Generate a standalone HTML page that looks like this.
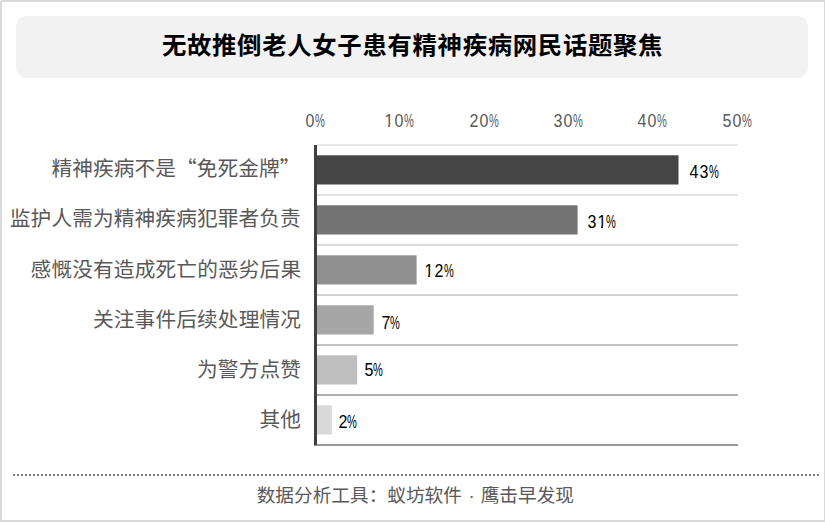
<!DOCTYPE html>
<html lang="zh-CN">
<head>
<meta charset="utf-8">
<title>无故推倒老人女子患有精神疾病网民话题聚焦</title>
<style>
html,body{margin:0;padding:0;background:#fff;}
body{width:825px;height:522px;position:relative;overflow:hidden;font-family:"Liberation Sans",sans-serif;}
#frame{position:absolute;left:0;top:0;width:822px;height:518px;border-style:solid;border-color:#d9d9d9;border-width:2px 1px 2px 2px;}
#notch{position:absolute;left:0;top:0;width:1px;height:1px;background:#fff;}
#banner{position:absolute;left:16px;top:16px;width:792px;height:62px;border-radius:10px;background:#f2f2f2;}
.grid{position:absolute;left:317px;width:421px;height:2px;}
.num{position:absolute;white-space:nowrap;line-height:20px;height:20px;font-size:18.40px;}
.num span{display:inline-block;width:30px;margin:0 var(--m,-10.00px);text-align:center;transform:scaleX(0.870);}
.num span.pc{transform:scaleX(0.600);}
.num span.one::before,.num span.one::after{content:"";position:absolute;top:14.4px;width:4.1px;height:2.8px;background:#fff;}
.num span.one::before{left:10.4px;}
.num span.one::after{left:16.25px;}
.val{color:#000;}
.tick{color:#595959;}
#dots{position:absolute;left:13px;top:474px;width:806px;height:2px;background:repeating-linear-gradient(90deg,#7f7f7f 0,#7f7f7f 2px,transparent 2px,transparent 4px);}
svg{position:absolute;left:0;top:0;}
svg text{font-family:"Liberation Sans","Noto Sans CJK SC",sans-serif;}
</style>
</head>
<body>
<div id="frame"></div><div id="notch"></div>
<div id="banner"></div>
<div class="grid" style="top:144px;background:#e8e8e8"></div>
<div class="grid" style="top:194px;background:#e2e2e2"></div>
<div class="grid" style="top:244px;background:#dbdbdb"></div>
<div class="grid" style="top:294px;background:#d3d3d3"></div>
<div class="grid" style="top:344px;background:#c3c3c3"></div>
<div class="grid" style="top:394px;background:#aeaeae"></div>
<div class="grid" style="top:444px;background:#9a9a9a"></div>
<svg width="825" height="522" viewBox="0 0 825 522" aria-hidden="true">
<rect x="316" y="155.30" width="362.50" height="29.20" fill="#454545"/>
<rect x="316" y="205.30" width="261.60" height="29.20" fill="#737373"/>
<rect x="316" y="255.30" width="100.60" height="29.20" fill="#909090"/>
<rect x="316" y="305.30" width="57.70" height="29.20" fill="#a6a6a6"/>
<rect x="316" y="355.30" width="41.20" height="29.20" fill="#bfbfbf"/>
<rect x="316" y="405.30" width="15.80" height="29.20" fill="#d9d9d9"/>
<rect x="314" y="145" width="3" height="300.6" fill="#3f3f3f"/>
</svg>
<div class="num tick" style="left:304.75px;top:111.00px"><span>0</span><span class="pc">%</span></div>
<div class="num tick" style="left:384.15px;top:111.00px"><span class="one">1</span><span>0</span><span class="pc">%</span></div>
<div class="num tick" style="left:468.55px;top:111.00px"><span>2</span><span>0</span><span class="pc">%</span></div>
<div class="num tick" style="left:552.95px;top:111.00px"><span>3</span><span>0</span><span class="pc">%</span></div>
<div class="num tick" style="left:637.35px;top:111.00px"><span>4</span><span>0</span><span class="pc">%</span></div>
<div class="num tick" style="left:721.75px;top:111.00px"><span>5</span><span>0</span><span class="pc">%</span></div>
<div class="num val" style="left:689.42px;top:162.00px;--m:-10.00px"><span>4</span><span>3</span><span class="pc">%</span></div>
<div class="num val" style="left:587.64px;top:211.80px;--m:-10.25px"><span>3</span><span class="one">1</span><span class="pc">%</span></div>
<div class="num val" style="left:423.98px;top:260.80px;--m:-10.00px"><span class="one">1</span><span>2</span><span class="pc">%</span></div>
<div class="num val" style="left:381.78px;top:313.00px;--m:-10.50px"><span>7</span><span class="pc">%</span></div>
<div class="num val" style="left:363.90px;top:360.10px;--m:-10.30px"><span>5</span><span class="pc">%</span></div>
<div class="num val" style="left:338.08px;top:411.80px;--m:-10.40px"><span>2</span><span class="pc">%</span></div>
<div id="dots"></div>
<svg width="825" height="522" viewBox="0 0 825 522" role="img" aria-label="chart text">
<g aria-label="无故推倒老人女子患有精神疾病网民话题聚焦">
<text x="161.9" y="54.10" font-size="24.4" font-weight="bold" fill="#000" textLength="500.6" lengthAdjust="spacing">无故推倒老人女子患有精神疾病网民话题聚焦</text>
</g>
<g aria-label="精神疾病不是“免死金牌”">
<text x="51.40" y="176.40" font-size="20.7" fill="#595959" textLength="249" lengthAdjust="spacing">精神疾病不是<tspan font-family="'Noto Sans CJK SC',sans-serif">“</tspan>免死金牌<tspan font-family="'Noto Sans CJK SC',sans-serif">”</tspan></text>
</g>
<g aria-label="监护人需为精神疾病犯罪者负责">
<text x="9.80" y="226.40" font-size="20.7" fill="#595959" textLength="291" lengthAdjust="spacing">监护人需为精神疾病犯罪者负责</text>
</g>
<g aria-label="感慨没有造成死亡的恶劣后果">
<text x="30.60" y="276.90" font-size="20.7" fill="#595959" textLength="270.5" lengthAdjust="spacing">感慨没有造成死亡的恶劣后果</text>
</g>
<g aria-label="关注事件后续处理情况">
<text x="93.00" y="327.20" font-size="20.7" fill="#595959" textLength="208" lengthAdjust="spacing">关注事件后续处理情况</text>
</g>
<g aria-label="为警方点赞">
<text x="197.00" y="377.20" font-size="20.7" fill="#595959" textLength="104" lengthAdjust="spacing">为警方点赞</text>
</g>
<g aria-label="其他">
<text x="259.40" y="427.20" font-size="20.7" fill="#595959" textLength="41.6" lengthAdjust="spacing">其他</text>
</g>
<g aria-label="数据分析工具：蚁坊软件 · 鹰击早发现">
<text y="502.00" font-size="18.67" fill="#595959"><tspan x="256.70">数据分析工具：蚁坊软件</tspan><tspan x="471.5" text-anchor="middle">·</tspan><tspan x="480.7">鹰击早发现</tspan></text>
</g>
</svg>
</body>
</html>
